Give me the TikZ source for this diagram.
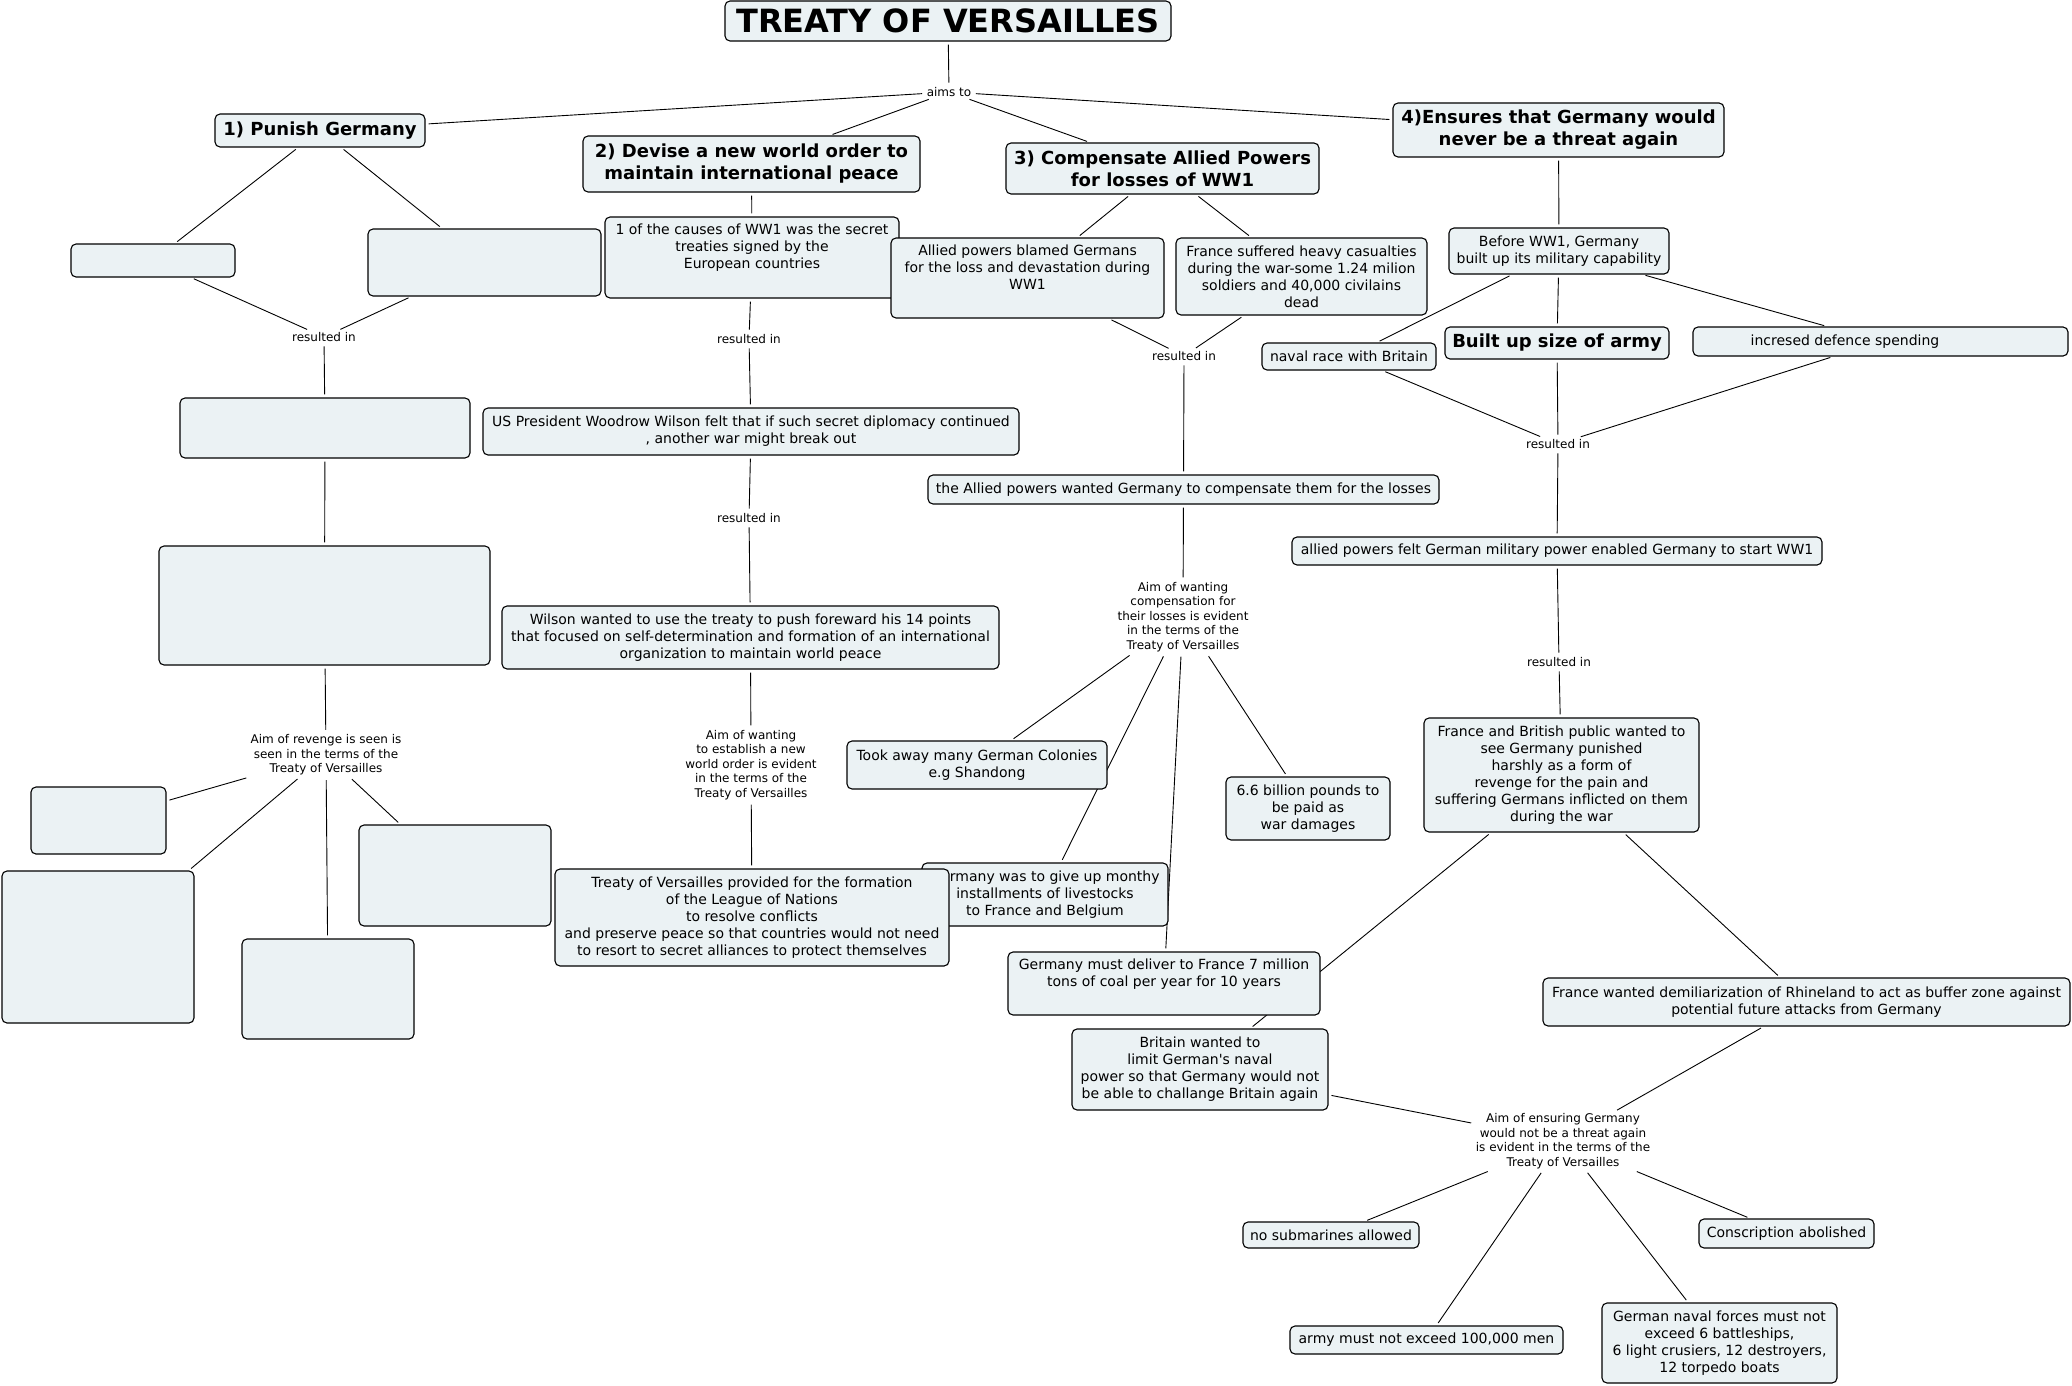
\documentclass[tikz,border=0pt]{standalone}
\usepackage{fontspec}
\setmainfont{DejaVu Sans}
\usetikzlibrary{backgrounds}
\definecolor{boxfill}{RGB}{235,242,244}
\newcommand\tvbody{\fontsize{14}{17}\selectfont}
\newcommand\tvlab{\fontsize{12}{14.6}\selectfont}
\newcommand\tvhead{\fontsize{18}{22}\selectfont\bfseries}
\newcommand\tvtitle{\fontsize{32}{38}\selectfont\bfseries}
\tikzset{
  cbox/.style={draw=black, fill=boxfill, rounded corners=5pt, line width=1.1pt, inner sep=2pt, font=\tvbody, align=center},
  head/.style={font=\tvhead},
  ttl/.style={font=\tvtitle},
  lab/.style={inner sep=1.5pt, font=\tvlab, align=center},
  link/.style={line width=0.9pt, shorten <=3pt, shorten >=3pt},
}
% #1 options, #2 name, #3 x1, #4 y1, #5 x2, #6 y2, #7 text
\newcommand{\cmbox}[7][]{%
  \node[cbox,#1,minimum width={#5-#3},minimum height={#6-#4}] (#2) at ({(#3+#5)/2},{(#4+#6)/2}) {#7};}
\begin{document}
\begin{tikzpicture}[x=1pt,y=-1pt]
\useasboundingbox (0,0) rectangle (2072,1386);

% ---- top
\cmbox[ttl]{title}{725}{1}{1171}{41}{TREATY OF VERSAILLES}
\node[lab] (aims) at (949,92) {aims to};
\cmbox[head]{p1}{215}{114}{425}{147}{1) Punish Germany}
\cmbox[head]{p2}{583}{136}{920}{192}{2) Devise a new world order to\\maintain international peace}
\cmbox[head]{p3}{1006}{143}{1319}{194}{3) Compensate Allied Powers\\for losses of WW1}
\cmbox[head]{p4}{1393}{103}{1724}{157}{4)Ensures that Germany would\\never be a threat again}

% ---- column 1 (empty boxes)
\cmbox{eA}{71}{244}{235}{277}{}
\cmbox{eB}{368}{229}{601}{296}{}
\node[lab] (r1) at (324,337) {resulted in};
\cmbox{eC}{180}{398}{470}{458}{}
\cmbox{eD}{159}{546}{490}{665}{}
\node[lab] (rev) at (326,755) {Aim of revenge is seen is\\seen in the terms of the\\Treaty of Versailles};
\cmbox{eE}{31}{787}{166}{854}{}
\cmbox{eF}{2}{871}{194}{1023}{}
\cmbox{eG}{242}{939}{414}{1039}{}
\cmbox{eH}{359}{825}{551}{926}{}

% ---- column 2
\cmbox{causes}{605}{217}{899}{298}{1 of the causes of WW1 was the secret\\treaties signed by the\\European countries\\\strut}
\node[lab] (r2) at (749,339) {resulted in};
\cmbox{us}{483}{408}{1019}{455}{US President Woodrow Wilson felt that if such secret diplomacy continued\\, another war might break out}
\node[lab] (r3) at (749,518) {resulted in};
\cmbox{wilson}{502}{606}{999}{669}{Wilson wanted to use the treaty to push foreward his 14 points\\that focused on self-determination and formation of an international\\organization to maintain world peace}
\node[lab] (neworder) at (751,765) {Aim of wanting\\to establish a new\\world order is evident\\in the terms of the\\Treaty of Versailles};

% ---- column 3
\cmbox{blamed}{891}{238}{1164}{318}{Allied powers blamed Germans\\for the loss and devastation during\\WW1\\\strut}
\cmbox{france}{1176}{238}{1427}{315}{France suffered heavy casualties\\during the war-some 1.24 milion\\soldiers and 40,000 civilains\\dead}
\node[lab] (r4) at (1184,356) {resulted in};
\cmbox{compensate}{928}{475}{1439}{504}{the Allied powers wanted Germany to compensate them for the losses}
\node[lab] (comp) at (1183,617) {Aim of wanting\\compensation for\\their losses is evident\\in the terms of the\\Treaty of Versailles};
\cmbox{colonies}{847}{741}{1107}{789}{Took away many German Colonies\\e.g Shandong}
\cmbox{billion}{1226}{777}{1390}{840}{6.6 billion pounds to\\be paid as\\war damages}
\cmbox{livestock}{922}{863}{1168}{926}{Germany was to give up monthy\\installments of livestocks\\to France and Belgium}
\cmbox{league}{555}{869}{949}{966}{Treaty of Versailles provided for the formation\\of the League of Nations\\to resolve conflicts\\and preserve peace so that countries would not need\\to resort to secret alliances to protect themselves}
\cmbox{coal}{1008}{952}{1320}{1015}{Germany must deliver to France 7 million\\tons of coal per year for 10 years\\\strut}

% ---- column 4
\cmbox{before}{1449}{228}{1669}{274}{Before WW1, Germany\\built up its military capability}
\cmbox{naval}{1262}{343}{1436}{370}{naval race with Britain}
\cmbox[head]{army}{1445}{327}{1669}{359}{Built up size of army}
\cmbox{spending}{1693}{327}{2068}{356}{incresed defence spending\hspace*{71pt}}
\node[lab] (r5) at (1558,444) {resulted in};
\cmbox{felt}{1292}{537}{1822}{565}{allied powers felt German military power enabled Germany to start WW1}
\node[lab] (r6) at (1559,662) {resulted in};
\cmbox{public}{1424}{718}{1699}{832}{France and British public wanted to\\see Germany punished\\harshly as a form of\\revenge for the pain and\\suffering Germans inflicted on them\\during the war}
\cmbox{britain}{1072}{1029}{1328}{1110}{Britain wanted to\\limit German\textquotesingle s naval\\power so that Germany would not\\be able to challange Britain again}
\cmbox{rhine}{1543}{978}{2070}{1026}{France wanted demiliarization of Rhineland to act as buffer zone against\\potential future attacks from Germany}
\node[lab] (ensure) at (1563,1141) {Aim of ensuring Germany\\would not be a threat again\\is evident in the terms of the\\Treaty of Versailles};
\cmbox{nosub}{1243}{1222}{1419}{1248}{no submarines allowed}
\cmbox{consc}{1699}{1219}{1874}{1248}{Conscription abolished}
\cmbox{armymen}{1290}{1326}{1563}{1354}{army must not exceed 100,000 men}
\cmbox{navalf}{1602}{1303}{1837}{1383}{German naval forces must not\\exceed 6 battleships,\\6 light crusiers, 12 destroyers,\\12 torpedo boats}

\begin{scope}[on background layer]
\fill[white] (0,0) rectangle (2072,1386);
\draw[link] (title) -- (aims);
\draw[link] (aims) -- (p1);
\draw[link] (aims) -- (p2);
\draw[link] (aims) -- (p3);
\draw[link] (aims) -- (p4);
% column 1
\draw[link] (p1) -- (eA);
\draw[link] (p1) -- (eB);
\draw[link] (eA) -- (r1);
\draw[link] (eB) -- (r1);
\draw[link] (r1) -- (eC);
\draw[link] (eC) -- (eD);
\draw[link] (eD) -- (rev);
\draw[link] (rev) -- (eE);
\draw[link] (rev) -- (eF);
\draw[link] (rev) -- (eG);
\draw[link] (rev) -- (eH);
% column 2
\draw[link] (p2) -- (causes);
\draw[link] (causes) -- (r2);
\draw[link] (r2) -- (us);
\draw[link] (us) -- (r3);
\draw[link] (r3) -- (wilson);
\draw[link] (wilson) -- (neworder);
\draw[link] (neworder) -- (league);
% column 3
\draw[link] (p3) -- (blamed);
\draw[link] (p3) -- (france);
\draw[link] (blamed) -- (r4);
\draw[link] (france) -- (r4);
\draw[link] (r4) -- (compensate);
\draw[link] (compensate) -- (comp);
\draw[link] (comp) -- (colonies);
\draw[link] (comp) -- (livestock);
\draw[link] (comp) -- (coal);
\draw[link] (comp) -- (billion);
% column 4
\draw[link] (p4) -- (before);
\draw[link] (before) -- (naval);
\draw[link] (before) -- (army);
\draw[link] (before) -- (spending);
\draw[link] (naval) -- (r5);
\draw[link] (army) -- (r5);
\draw[link] (spending) -- (r5);
\draw[link] (r5) -- (felt);
\draw[link] (felt) -- (r6);
\draw[link] (r6) -- (public);
\draw[link] (public) -- (britain);
\draw[link] (public) -- (rhine);
\draw[link] (britain) -- (ensure);
\draw[link] (rhine) -- (ensure);
\draw[link] (ensure) -- (nosub);
\draw[link] (ensure) -- (armymen);
\draw[link] (ensure) -- (navalf);
\draw[link] (ensure) -- (consc);
\end{scope}
\end{tikzpicture}
\end{document}
